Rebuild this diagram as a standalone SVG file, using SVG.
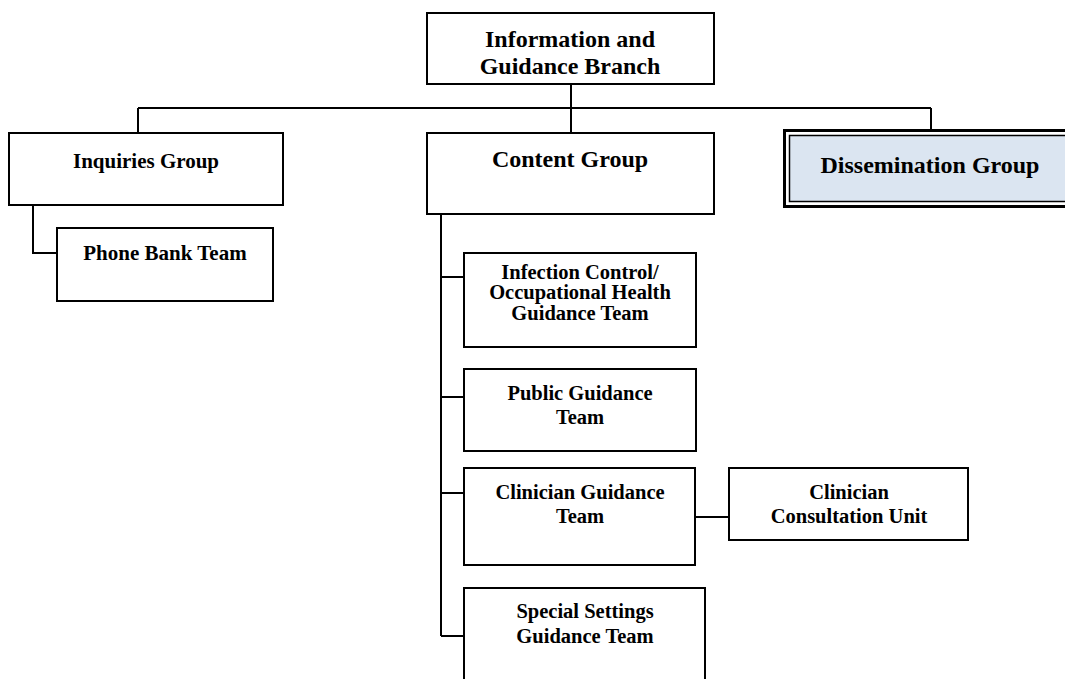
<svg xmlns="http://www.w3.org/2000/svg" width="1065" height="679" viewBox="0 0 1065 679">
<style>
.box{fill:#fff;stroke:#000;stroke-width:2}
.ln{fill:none;stroke:#000;stroke-width:2}
text{font-family:"Liberation Serif","Times New Roman",serif;font-weight:bold;fill:#000;text-anchor:middle}
.t24{font-size:24px}
.t21{font-size:21px}
.t20{font-size:20.5px}
</style>
<rect width="1065" height="679" fill="#fff"/>
<g id="connectors">
<path class="ln" d="M571 84V133"/>
<path class="ln" d="M138 108H931"/>
<path class="ln" d="M138 108V133"/>
<path class="ln" d="M931 108V129"/>
<path class="ln" d="M33 205V253H57"/>
<path class="ln" d="M441 214V636"/>
<path class="ln" d="M441 277H464M441 397H464M441 493H464M441 636H464"/>
<path class="ln" d="M695 517H729"/>
</g>
<g id="branch">
<rect class="box" x="427" y="13" width="287" height="71"/>
<text class="t24" x="570" y="47">Information and</text>
<text class="t24" x="570" y="74">Guidance Branch</text>
</g>
<g id="inquiries">
<rect class="box" x="9" y="133" width="274" height="72"/>
<text class="t21" x="146" y="168">Inquiries Group</text>
</g>
<g id="phonebank">
<rect class="box" x="57" y="228" width="216" height="73"/>
<text class="t21" x="165" y="260">Phone Bank Team</text>
</g>
<g id="content">
<rect class="box" x="427" y="133" width="287" height="81"/>
<text class="t24" x="570" y="167">Content Group</text>
</g>
<g id="dissemination">
<rect x="784.5" y="130.5" width="300" height="76" fill="#fff" stroke="#000" stroke-width="3"/>
<rect x="789.5" y="135.5" width="290" height="66" fill="#dbe5f1" stroke="#000" stroke-width="1.5"/>
<text class="t24" x="930" y="173">Dissemination Group</text>
</g>
<g id="infection">
<rect class="box" x="464" y="253" width="232" height="94"/>
<text class="t20" x="580" y="279">Infection Control/</text>
<text class="t20" x="580" y="299">Occupational Health</text>
<text class="t20" x="580" y="320">Guidance Team</text>
</g>
<g id="public">
<rect class="box" x="464" y="369" width="232" height="82"/>
<text class="t20" x="580" y="400">Public Guidance</text>
<text class="t20" x="580" y="424">Team</text>
</g>
<g id="clinician">
<rect class="box" x="464" y="468" width="231" height="97"/>
<text class="t20" x="580" y="499">Clinician Guidance</text>
<text class="t20" x="580" y="523">Team</text>
</g>
<g id="consultation">
<rect class="box" x="729" y="468" width="239" height="72"/>
<text class="t20" x="849" y="499">Clinician</text>
<text class="t20" x="849" y="523">Consultation Unit</text>
</g>
<g id="special">
<rect class="box" x="464" y="588" width="241" height="95"/>
<text class="t20" x="585" y="618">Special Settings</text>
<text class="t20" x="585" y="643">Guidance Team</text>
</g>
</svg>
